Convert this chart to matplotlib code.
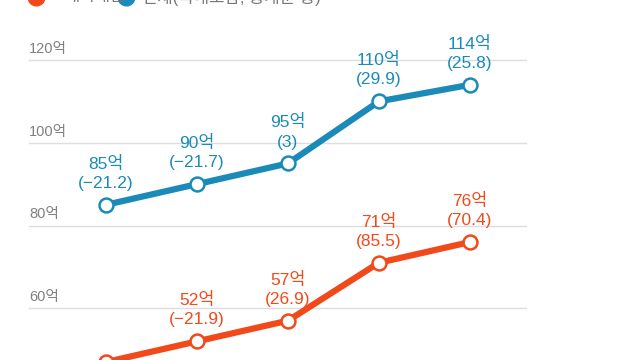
import matplotlib
matplotlib.use("Agg")
import matplotlib.pyplot as plt

plt.rcParams['font.family'] = ['Liberation Sans', 'Noto Sans CJK KR', 'DejaVu Sans']

# data
periods = [0, 1, 2, 3, 4]
total = [85, 90, 95, 110, 114]
total_chg = ["−21.2", "−21.7", "3", "29.9", "25.8"]
overseas = [47, 52, 57, 71, 76]
overseas_chg = ["−18.8", "−21.9", "26.9", "85.5", "70.4"]
yticks = [60, 80, 100, 120]

blue = "#1a8bb9"
orange = "#f1491a"

fig = plt.figure(figsize=(6.4, 3.6), dpi=100)
ax = fig.add_axes([0, 0, 1, 1])
ax.set_xlim(-1.165, 5.87)
ax.set_ylim(47.5, 134.5)
ax.axis("off")

# grid lines + labels
for t in yticks:
    ax.plot([-0.845, 4.62], [t, t], color="#dedede", lw=1, zorder=1)
    ax.text(-0.845, t + 1.0, f"{t}억", color="#808080", fontsize=10.5,
            ha="left", va="bottom")

for vals, chg, col in [(total, total_chg, blue), (overseas, overseas_chg, orange)]:
    ax.plot(periods, vals, color=col, lw=4.5, zorder=3, solid_capstyle="round")
    ax.plot(periods, vals, "o", ms=10, mfc="white", mec=col, mew=1.8, zorder=4)
    for x, v, c in zip(periods, vals, chg):
        ax.annotate(f"{v}억\n({c})", (x, v), xytext=(0, 10),
                    textcoords="offset points", ha="center", va="bottom",
                    color=col, fontsize=12.5, linespacing=1.35, zorder=5)

# legend (cut at top edge)
ax.plot([36 / 640], [1 + 3 / 360], "o", ms=12, color=orange,
        transform=ax.transAxes, clip_on=False)
ax.text(64 / 640, 1 + 3 / 360, "해외매출", transform=ax.transAxes,
        ha="left", va="center", color="#777777", fontsize=12)
ax.plot([126 / 640], [1 + 3 / 360], "o", ms=12, color=blue,
        transform=ax.transAxes, clip_on=False)
ax.text(142 / 640, 1 + 3 / 360, "전체(국내포함, 공개분 등)", transform=ax.transAxes,
        ha="left", va="center", color="#777777", fontsize=12)

fig.savefig("out.png", dpi=100)
